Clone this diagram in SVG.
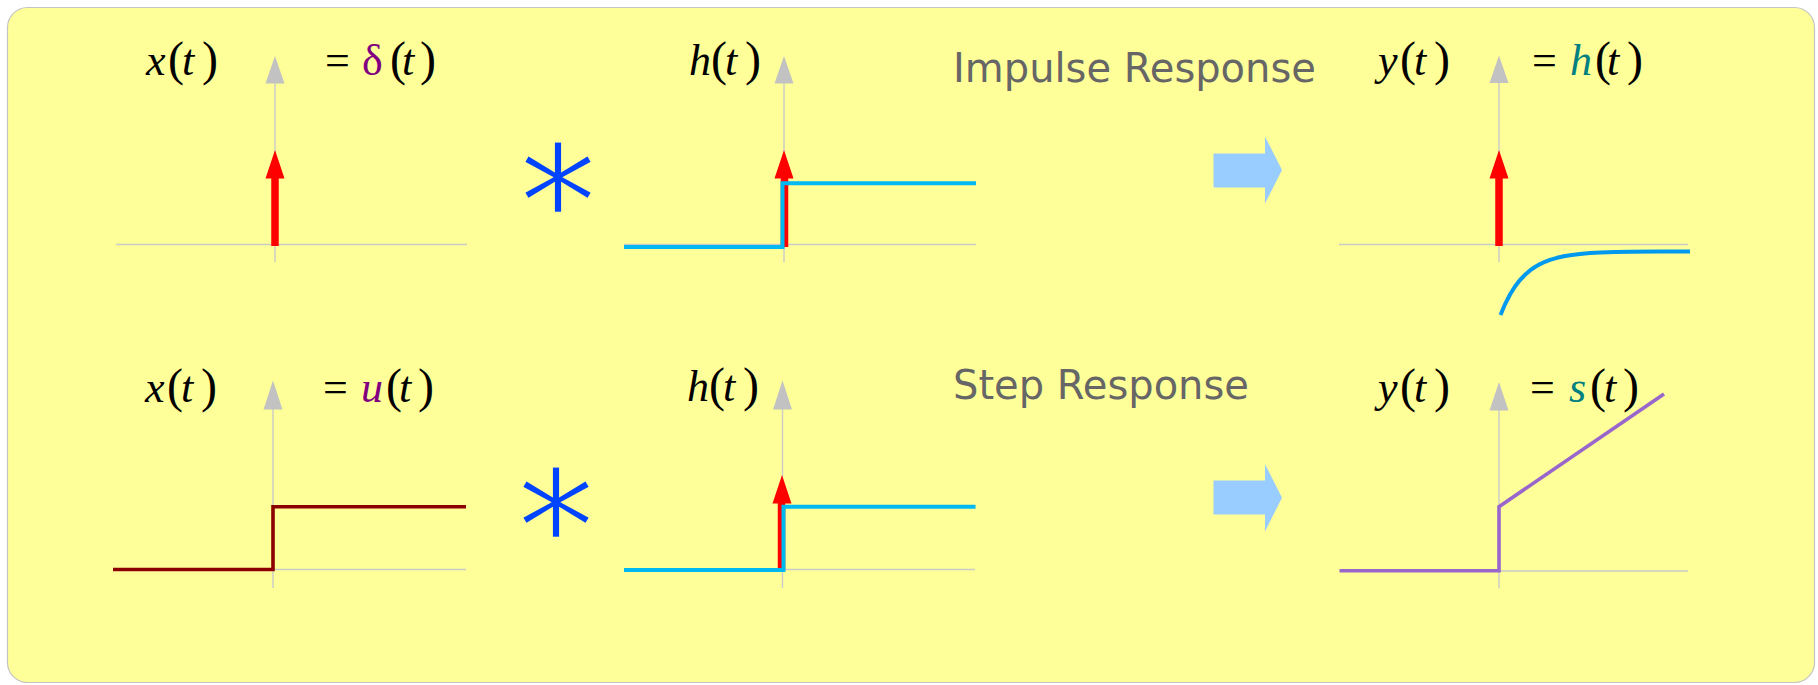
<svg xmlns="http://www.w3.org/2000/svg" width="1818" height="685" viewBox="0 0 1818 685">
  <style>
    .axis { stroke: #cacaca; stroke-width: 1.4; fill: none; }
    .axhead { fill: #c2c2c2; }
    .math { font-family: "Liberation Serif", "Times New Roman", serif; font-size: 44px; fill: #000; }
    .it { font-style: italic; }
    .par { font-size: 48px; font-style: normal; }
    .title { font-family: "DejaVu Sans", Verdana, sans-serif; font-size: 40px; fill: #666666; }
    .imp { fill: #ff0000; }
    .shaft { stroke: #ff0000; stroke-width: 7.5; }
    .step { fill: none; stroke: #00b8f2; stroke-width: 4; }
    .op { font-family: "DejaVu Sans", sans-serif; font-size: 156px; fill: #0044ff; stroke: #ffff99; stroke-width: 2.5; }
    .flow { fill: #99ccff; }
  </style>

  <!-- slide background -->
  <rect x="7.5" y="7.5" width="1807" height="675" rx="20" ry="20" fill="#ffff99" stroke="#c4c4c4" stroke-width="1.2"/>

  <!-- ===== top row: impulse input ===== -->
  <g id="x-impulse">
    <line class="axis" x1="116" y1="244.5" x2="467" y2="244.5"/>
    <line class="axis" x1="275" y1="70" x2="275" y2="262"/>
    <polygon class="axhead" points="275,56 284.5,83.5 265.5,83.5"/>
    <line class="shaft" x1="275" y1="246" x2="275" y2="176"/>
    <polygon class="imp" points="275,150 284.5,178.5 265.5,178.5"/>
    <text class="math" x="146" y="75"><tspan class="it">x</tspan><tspan class="par" x="168">(</tspan><tspan class="it" x="182">t</tspan><tspan class="par" x="202">)</tspan></text>
    <text class="math" x="325" y="75">=<tspan x="362" fill="#800080">δ</tspan><tspan class="par" x="390">(</tspan><tspan class="it" x="402">t</tspan><tspan class="par" x="420">)</tspan></text>
  </g>

  <g id="conv-top">
    <text class="op" x="558" y="258" text-anchor="middle">*</text>
  </g>

  <g id="h-top">
    <line class="axis" x1="624" y1="244.5" x2="976" y2="244.5"/>
    <line class="axis" x1="784" y1="70" x2="784" y2="262"/>
    <polygon class="axhead" points="784,56 793.5,83.5 774.5,83.5"/>
    <line class="shaft" x1="784.5" y1="247" x2="784.5" y2="176"/>
    <polygon class="imp" points="784,150 793.5,178.5 774.5,178.5"/>
    <path class="step" d="M624,247 H782.5 V183.3 H976"/>
    <text class="math" x="689" y="75"><tspan class="it">h</tspan><tspan class="par" x="711">(</tspan><tspan class="it" x="725">t</tspan><tspan class="par" x="745">)</tspan></text>
  </g>

  <g id="label-impulse">
    <text class="title" x="953" y="81.5">Impulse Response</text>
  </g>

  <g id="y-impulse">
    <line class="axis" x1="1339" y1="244.5" x2="1688" y2="244.5"/>
    <line class="axis" x1="1499" y1="70" x2="1499" y2="262"/>
    <polygon class="axhead" points="1499,55.5 1508.5,83 1489.5,83"/>
    <line class="shaft" x1="1499" y1="246" x2="1499" y2="176"/>
    <polygon class="imp" points="1499,150 1508.5,178.5 1489.5,178.5"/>
    <polyline fill="none" stroke="#0099ee" stroke-width="4" stroke-linejoin="round"
      points="1500.5,315 1505,304.3 1510,294.5 1515,286.5 1520,280 1525,274.8 1530,270.4 1535,267 1540,264.1 1545,261.8 1550,259.8 1557,257.8 1565,256 1572,254.9 1580,253.9 1590,253.1 1600,252.6 1615,252.1 1630,251.8 1660,251.6 1690,251.5"/>
    <text class="math" x="1378" y="75"><tspan class="it">y</tspan><tspan class="par" x="1400">(</tspan><tspan class="it" x="1414">t</tspan><tspan class="par" x="1434">)</tspan></text>
    <text class="math" x="1532" y="75">=<tspan class="it" x="1570" fill="#008080">h</tspan><tspan class="par" x="1595">(</tspan><tspan class="it" x="1607">t</tspan><tspan class="par" x="1627">)</tspan></text>
  </g>

  <!-- ===== bottom row: step input ===== -->
  <g id="x-step">
    <line class="axis" x1="114" y1="569.5" x2="466" y2="569.5"/>
    <line class="axis" x1="273" y1="395" x2="273" y2="588"/>
    <polygon class="axhead" points="273,380.5 282.5,409.5 263.5,409.5"/>
    <path fill="none" stroke="#8b0000" stroke-width="3.6" d="M113,569.5 H273 V506.7 H466"/>
    <text class="math" x="145" y="401.5"><tspan class="it">x</tspan><tspan class="par" x="167">(</tspan><tspan class="it" x="181">t</tspan><tspan class="par" x="201">)</tspan></text>
    <text class="math" x="323" y="401.5">=<tspan class="it" x="361" fill="#800080">u</tspan><tspan class="par" x="386">(</tspan><tspan class="it" x="399">t</tspan><tspan class="par" x="418">)</tspan></text>
  </g>

  <g id="conv-bottom">
    <text class="op" x="556" y="583" text-anchor="middle">*</text>
  </g>

  <g id="h-bottom">
    <line class="axis" x1="624" y1="569.5" x2="975" y2="569.5"/>
    <line class="axis" x1="782.5" y1="395" x2="782.5" y2="588"/>
    <polygon class="axhead" points="782.5,380.5 792,409.5 773,409.5"/>
    <line class="shaft" x1="781.5" y1="570" x2="781.5" y2="500"/>
    <polygon class="imp" points="782,475 791.5,503.5 772.5,503.5"/>
    <path class="step" d="M624,570 H783.5 V506.7 H975.5"/>
    <text class="math" x="687" y="401"><tspan class="it">h</tspan><tspan class="par" x="709">(</tspan><tspan class="it" x="723">t</tspan><tspan class="par" x="743">)</tspan></text>
  </g>

  <g id="label-step">
    <text class="title" x="953" y="398.5">Step Response</text>
  </g>

  <g id="y-step">
    <line class="axis" x1="1340" y1="571" x2="1688" y2="571"/>
    <line class="axis" x1="1499" y1="395" x2="1499" y2="588.5"/>
    <polygon class="axhead" points="1499,382 1508.5,410.5 1489.5,410.5"/>
    <path fill="none" stroke="#9966cc" stroke-width="3.6" d="M1339.5,570.7 H1499 V506.7 L1664,394"/>
    <text class="math" x="1378" y="401.5"><tspan class="it">y</tspan><tspan class="par" x="1400">(</tspan><tspan class="it" x="1414">t</tspan><tspan class="par" x="1434">)</tspan></text>
    <text class="math" x="1530" y="401.5">=<tspan class="it" x="1569" fill="#008080">s</tspan><tspan class="par" x="1590">(</tspan><tspan class="it" x="1604">t</tspan><tspan class="par" x="1623">)</tspan></text>
  </g>

  <!-- result arrows -->
  <g id="connectors">
    <polygon class="flow" points="1213.5,153.5 1265,153.5 1265,136.5 1282,170 1265,203.5 1265,187.5 1213.5,187.5"/>
    <polygon class="flow" points="1213.5,480.5 1265,480.5 1265,464 1282,497.7 1265,531.5 1265,514.5 1213.5,514.5"/>
  </g>
</svg>
